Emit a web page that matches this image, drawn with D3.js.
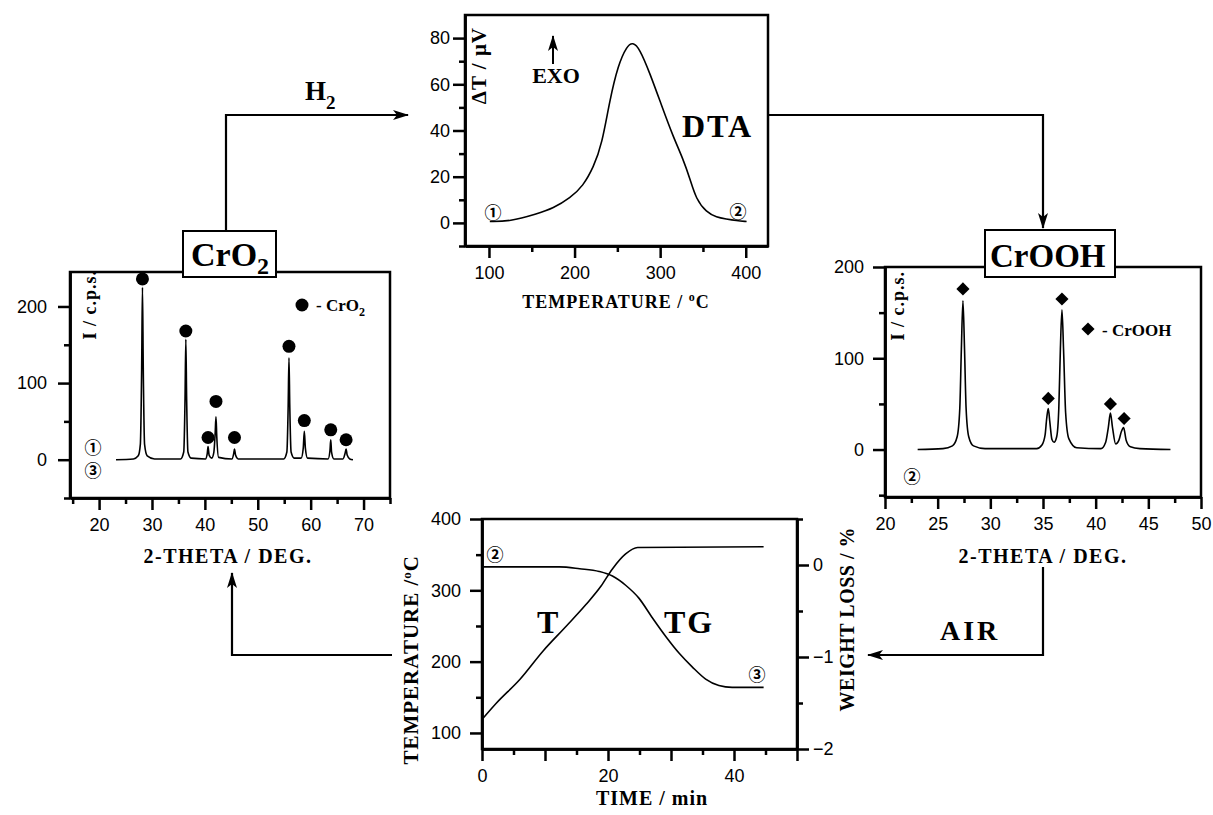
<!DOCTYPE html>
<html>
<head>
<meta charset="utf-8">
<script src="https://cdn.jsdelivr.net/npm/d3@7"></script>
<style>
  body { margin: 0; background: #fff; }
  svg text { fill: #000; }
  .tick text { font-family: "Liberation Sans", Arial, sans-serif; font-size: 18px; }
  .tick line, .domain { stroke: #000; stroke-width: 2.5; }
  .lbl { font-family: "Liberation Serif", "Times New Roman", serif; font-weight: bold; }
  .num { font-family: "Noto Sans CJK JP", "DejaVu Sans", sans-serif; font-size: 17px; font-weight: bold; }
</style>
</head>
<body>
<svg id="fig" width="1213" height="815"></svg>
<script>
// ---- CrO2 XRD pattern (2-theta / deg, counts) ----
let cro2Theta = [23.2, 26.5, 27.4, 27.8, 28.05, 28.2, 28.35, 28.6, 29.1, 30.5, 35.4, 36.0, 36.25, 36.4, 36.55, 36.8, 37.4,
  40.1, 40.45, 40.6, 40.8, 41.3, 41.7, 41.95, 42.1, 42.25, 42.6, 45.1, 45.45, 45.6, 45.8, 46.3,
  54.9, 55.5, 55.75, 55.9, 56.05, 56.3, 56.9, 58.2, 58.6, 58.8, 59.0, 59.4, 63.3, 63.65, 63.8, 63.95, 64.4,
  66.1, 66.5, 66.7, 66.9, 67.4, 68.0];
let cro2Counts = [0, 1, 5, 20, 120, 225, 120, 20, 5, 1, 1, 10, 80, 157, 80, 10, 2,
  1, 8, 17, 6, 2, 10, 35, 56, 30, 3, 1, 8, 14, 6, 1,
  1, 10, 70, 133, 70, 10, 2, 2, 15, 37, 15, 2, 1, 12, 26, 10, 1,
  1, 8, 14, 6, 1, 0];
let cro2MarkTheta = [28.2, 36.4, 40.6, 42.1, 45.6, 55.9, 58.8, 63.8, 66.7];
let cro2MarkCounts = [236, 168, 29, 76, 29, 148, 51, 39, 26];

// ---- DTA (temperature / C, dT / uV) ----
let dtaTemp = [101, 124, 156, 175, 195, 210, 222, 232, 241, 251, 261, 268, 276, 288, 302, 315, 327, 335, 342, 354, 366, 377, 389, 401];
let dtaSignal = [0.6, 0.6, 3.9, 6.3, 10.8, 16, 24, 34, 53, 68.5, 76.5, 78.3, 75.5, 64.8, 50.5, 37.5, 27.5, 18.9, 10.3, 4.6, 2.4, 1.7, 1.0, 0.6];

// ---- CrOOH XRD pattern ----
let croohTheta = [23.1, 25.5, 26.4, 26.85, 27.1, 27.25, 27.4, 27.55, 27.7, 27.95, 28.4, 29.5, 34.4, 34.9, 35.2, 35.35, 35.5, 35.65, 35.85, 36.05,
  36.3, 36.5, 36.65, 36.8, 36.95, 37.15, 37.45, 38.2, 40.5, 40.95, 41.2, 41.4, 41.6, 41.9, 42.2, 42.45, 42.65, 42.9, 43.3, 44.2, 47.1];
let croohCounts = [0, 1, 4, 14, 45, 110, 163, 110, 45, 14, 4, 1, 1, 5, 16, 34, 45, 30, 11, 8,
  14, 45, 110, 153, 110, 40, 12, 2, 1, 8, 24, 40, 24, 6, 10, 20, 24, 10, 3, 1, 0];
let croohMarkTheta = [27.4, 35.5, 36.8, 41.4, 42.7];
let croohMarkCounts = [176, 56, 165, 50, 34];

// ---- TG run (time / min) ----
let tTime = [0.2, 2.3, 6, 9.7, 13.4, 16.5, 18.9, 20.7, 22.8, 24.7, 44.7];
let tTemp = [121, 142, 175, 215, 250, 280, 306, 330, 351, 360, 361];
let tgTime = [0.2, 12.3, 15.5, 18.6, 20.7, 22.8, 24.9, 27, 29.2, 31.3, 33.4, 35.5, 37.6, 39.7, 44.7];
let tgLoss = [-0.02, -0.02, -0.04, -0.07, -0.12, -0.22, -0.36, -0.57, -0.78, -0.96, -1.11, -1.24, -1.31, -1.33, -1.33];

// tick values
let xrd1Major = [20, 30, 40, 50, 60, 70], xrd1Minor = [15, 25, 35, 45, 55, 65, 75];
let xrdYMajor = [0, 100, 200], xrdYMinor = [-50, 50, 150];
let dtaXMajor = [100, 200, 300, 400], dtaXMinor = [150, 250, 350];
let dtaYMajor = [0, 20, 40, 60, 80], dtaYMinor = [-10, 10, 30, 50, 70];
let xrd2Major = [20, 25, 30, 35, 40, 45, 50], xrd2Minor = [22.5, 27.5, 32.5, 37.5, 42.5, 47.5];
let timeMajor = [0, 10, 20, 30, 40, 50], timeMinor = [5, 15, 25, 35, 45];
let tempMajor = [100, 200, 300, 400], tempMinor = [150, 250, 350];
let lossMajor = [0, -1, -2], lossMinor = [0.5, -0.5, -1.5];

const svg = d3.select('#fig');

svg.append('defs').append('marker')
  .attr('id', 'head').attr('markerUnits', 'userSpaceOnUse')
  .attr('viewBox', '0 0 16 10').attr('refX', 15).attr('refY', 5)
  .attr('markerWidth', 16).attr('markerHeight', 10).attr('orient', 'auto')
  .append('path').attr('d', 'M0,0L16,5L0,10L4,5Z').attr('fill', '#000');

function drawAxis(orient, scale, pos, major, minor, fmt, pad) {
  const mk = { bottom: d3.axisBottom, left: d3.axisLeft, right: d3.axisRight }[orient];
  const tr = orient === 'bottom' ? `translate(0,${pos})` : `translate(${pos},0)`;
  svg.append('g').attr('transform', tr)
    .call(mk(scale).tickValues(minor).tickSize(6).tickSizeOuter(0).tickFormat(''));
  return svg.append('g').attr('transform', tr)
    .call(mk(scale).tickValues(major).tickSize(12).tickSizeOuter(0).tickPadding(pad).tickFormat(fmt));
}

function frame(x, y) {
  svg.append('rect')
    .attr('x', x.range()[0]).attr('y', y.range()[1])
    .attr('width', x.range()[1] - x.range()[0]).attr('height', y.range()[0] - y.range()[1])
    .attr('fill', 'none').attr('stroke', '#000').attr('stroke-width', 2.5);
}

function curve(xs, ys, x, y, c) {
  svg.append('path')
    .datum(xs.map((d, i) => [d, ys[i]]))
    .attr('fill', 'none').attr('stroke', '#000').attr('stroke-width', 1.6)
    .attr('d', d3.line().x(d => x(d[0])).y(d => y(d[1])).curve(c || d3.curveMonotoneX));
}

function label(txt, x, y, size, opts) {
  const t = svg.append('text').attr('class', 'lbl').attr('x', x).attr('y', y)
    .style('font-size', size + 'px');
  if (opts && opts.anchor) t.attr('text-anchor', opts.anchor);
  if (opts && opts.ls) t.style('letter-spacing', opts.ls + 'px');
  if (opts && opts.rot) t.attr('x', 0).attr('y', 0).attr('transform', `translate(${x},${y}) rotate(-90)`);
  return t.text(txt);
}

function circled(ch, x, y) {
  svg.append('text').attr('class', 'num').attr('x', x).attr('y', y)
    .attr('text-anchor', 'middle').attr('dominant-baseline', 'central').text(ch);
}

// ===== Panel 1 : CrO2 =====
const x1 = d3.scaleLinear().domain([14.5, 75]).range([70, 390]);
const y1 = d3.scaleLinear().domain([-50, 245]).range([498, 272]);
frame(x1, y1);
drawAxis('bottom', x1, 498, xrd1Major, xrd1Minor, d3.format('d'), 8);
drawAxis('left', y1, 70, xrdYMajor, xrdYMinor, d3.format('d'), 11);
curve(cro2Theta, cro2Counts, x1, y1);
svg.append('g').selectAll('circle').data(cro2MarkTheta).join('circle')
  .attr('cx', d => x1(d)).attr('cy', (d, i) => y1(cro2MarkCounts[i])).attr('r', 6.5).attr('fill', '#000');
svg.append('circle').attr('cx', 302).attr('cy', 305).attr('r', 6.5).attr('fill', '#000');
label('- CrO', 316, 311, 17).append('tspan').attr('dy', 5).style('font-size', '12px').text('2');
label('I / c.p.s.', 96, 270, 18, { rot: true, anchor: 'end', ls: 1 });
circled('①', 93, 446);
circled('③', 93, 469);
label('2-THETA / DEG.', 228, 563, 20, { anchor: 'middle', ls: 1.5 });

// ===== Panel 2 : DTA =====
const x2 = d3.scaleLinear().domain([72, 426]).range([465, 768]);
const y2 = d3.scaleLinear().domain([-10, 90]).range([246, 15]);
frame(x2, y2);
drawAxis('bottom', x2, 246, dtaXMajor, dtaXMinor, d3.format('d'), 8);
drawAxis('left', y2, 465, dtaYMajor, dtaYMinor, d3.format('d'), 3);
curve(dtaTemp, dtaSignal, x2, y2, d3.curveBasis);
label('ΔT / μV', 486, 27, 21, { rot: true, anchor: 'end', ls: 1 });
svg.append('line').attr('x1', 553).attr('x2', 553).attr('y1', 64).attr('y2', 36)
  .attr('stroke', '#000').attr('stroke-width', 2).attr('marker-end', 'url(#head)');
label('EXO', 556, 83, 22, { anchor: 'middle' });
label('DTA', 682, 137, 32, { ls: 2 });
circled('①', 493, 211);
circled('②', 738, 210);
const t2 = label('TEMPERATURE / ', 616, 308, 18, { anchor: 'middle', ls: 1 });
t2.append('tspan').attr('dy', -7).style('font-size', '12px').text('o');
t2.append('tspan').attr('dy', 7).text('C');

// ===== Panel 3 : CrOOH =====
const x3 = d3.scaleLinear().domain([20, 50]).range([885, 1201]);
const y3 = d3.scaleLinear().domain([-52, 200]).range([497, 267]);
frame(x3, y3);
drawAxis('bottom', x3, 497, xrd2Major, xrd2Minor, d3.format('d'), 8);
drawAxis('left', y3, 885, xrdYMajor, xrdYMinor, d3.format('d'), 9);
curve(croohTheta, croohCounts, x3, y3);
const diamond = d3.symbol().type(d3.symbolDiamond2).size(110);
svg.append('g').selectAll('path').data(croohMarkTheta).join('path')
  .attr('transform', (d, i) => `translate(${x3(d)},${y3(croohMarkCounts[i])})`)
  .attr('d', diamond).attr('fill', '#000');
svg.append('path').attr('transform', 'translate(1088,329)').attr('d', diamond).attr('fill', '#000');
label('- CrOOH', 1102, 336, 17);
label('I / c.p.s.', 904, 271, 18, { rot: true, anchor: 'end', ls: 1 });
circled('②', 912, 475);
label('2-THETA / DEG.', 1043, 563, 20, { anchor: 'middle', ls: 1.5 });

// ===== Panel 4 : T / TG =====
const x4 = d3.scaleLinear().domain([0, 50]).range([482, 797]);
const y4 = d3.scaleLinear().domain([77.5, 400]).range([749, 519]);
const y4r = d3.scaleLinear().domain([-2, 0.5]).range([749, 519]);
frame(x4, y4);
drawAxis('bottom', x4, 749, timeMajor, timeMinor, d => (d % 20 === 0 && d < 50) ? d : '', 8);
drawAxis('left', y4, 482, tempMajor, tempMinor, d3.format('d'), 9);
drawAxis('right', y4r, 797, lossMajor, lossMinor, d3.format('d'), 4);
curve(tTime, tTemp, x4, y4);
curve(tgTime, tgLoss, x4, y4r);
label('T', 537, 633, 32);
label('TG', 664, 633, 32, { ls: 2 });
circled('②', 495, 553);
circled('③', 757, 673);
const t4 = label('', 418, 555, 21, { rot: true, anchor: 'end', ls: 1 });
t4.append('tspan').text('TEMPERATURE /');
t4.append('tspan').attr('dy', -7).style('font-size', '13px').text('o');
t4.append('tspan').attr('dy', 7).text('C');
label('WEIGHT LOSS / %', 854, 527, 20, { rot: true, anchor: 'end', ls: 0.5 });
label('TIME / min', 652, 805, 20, { anchor: 'middle', ls: 1 });

// ===== boxes and process arrows =====
function box(x, y, w, h) {
  svg.append('rect').attr('x', x).attr('y', y).attr('width', w).attr('height', h)
    .attr('fill', '#fff').attr('stroke', '#000').attr('stroke-width', 2);
}
function arrow(pts) {
  svg.append('path').attr('d', d3.line()(pts)).attr('fill', 'none')
    .attr('stroke', '#000').attr('stroke-width', 2.2).attr('marker-end', 'url(#head)');
}
box(183, 231, 93, 46);
label('CrO', 191, 266, 34).append('tspan').attr('dy', 8).style('font-size', '24px').text('2');
box(985, 230, 130, 47);
label('CrOOH', 990, 267, 33);

arrow([[226, 231], [226, 115], [408, 115]]);
label('H', 305, 100, 27).append('tspan').attr('dy', 9).style('font-size', '19px').text('2');
arrow([[768, 115], [1043, 115], [1043, 228]]);
arrow([[1043, 567], [1043, 655], [868, 655]]);
label('AIR', 940, 640, 28, { ls: 3 });
arrow([[392, 655], [232, 655], [232, 573]]);
</script>
</body>
</html>
